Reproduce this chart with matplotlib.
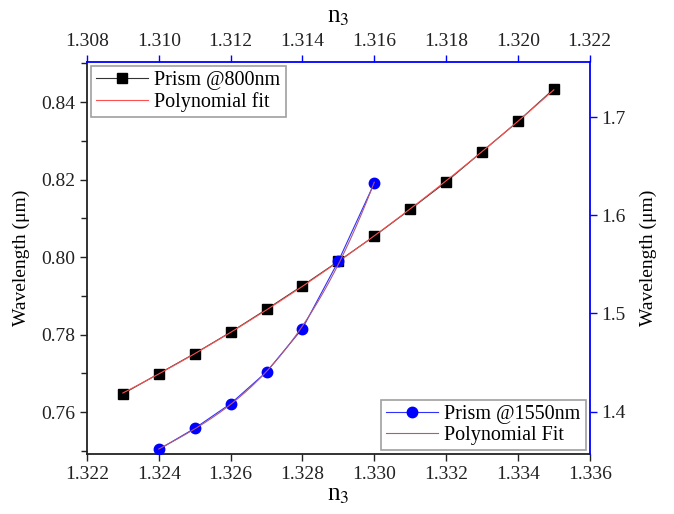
import numpy as np
import matplotlib.pyplot as plt

# data
n3_800 = [1.323, 1.324, 1.325, 1.326, 1.327, 1.328, 1.329,
          1.330, 1.331, 1.332, 1.333, 1.334, 1.335]
wl_800 = [0.7647, 0.7699, 0.7751, 0.7806, 0.7865, 0.7926, 0.7989,
          0.8054, 0.8123, 0.8194, 0.8272, 0.8350, 0.8434]

n3_1550 = [1.310, 1.311, 1.312, 1.313, 1.314, 1.315, 1.316]
wl_1550 = [1.3615, 1.3830, 1.4081, 1.4405, 1.4847, 1.5533, 1.6327]

bottom_ticks = [1.322, 1.324, 1.326, 1.328, 1.330, 1.332, 1.334, 1.336]
top_ticks = [1.308, 1.310, 1.312, 1.314, 1.316, 1.318, 1.320, 1.322]
left_ticks = [0.76, 0.78, 0.80, 0.82, 0.84]
right_ticks = [1.4, 1.5, 1.6, 1.7]

plt.rcParams['font.family'] = ['Liberation Serif', 'DejaVu Serif']
plt.rcParams['mathtext.fontset'] = 'stix'

fig = plt.figure(figsize=(6.74, 5.14), dpi=100)
pos = [0.129, 0.117, 0.746, 0.762]
ax = fig.add_axes(pos)
ax2 = fig.add_axes(pos)
ax2.patch.set_visible(False)

# ---- 800 nm on bottom/left ----
p800 = np.polyfit(n3_800, wl_800, 2)
xf = np.linspace(n3_800[0], n3_800[-1], 200)
ax.plot(n3_800, wl_800, color='#333333', lw=0.8, marker='s', ms=6.5,
        mfc='black', mec='black', label='Prism @800nm', zorder=3)
ax.plot(xf, np.polyval(p800, xf), color='#ff5050', lw=0.8,
        label='Polynomial fit', zorder=4)

# ---- 1550 nm on top/right ----
p1550 = np.polyfit(n3_1550, wl_1550, 3)
xf2 = np.linspace(n3_1550[0], n3_1550[-1], 200)
ax2.plot(n3_1550, wl_1550, color='#3030ff', lw=0.8, marker='o', ms=7.5,
         mfc='blue', mec='blue', label='Prism @1550nm', zorder=3)
ax2.plot(xf2, np.polyval(p1550, xf2), color='#b05a78', lw=0.8,
         label='Polynomial Fit', zorder=4)

ax.set_xlim(1.322, 1.336)
ax.set_ylim(0.7492, 0.8503)
ax2.set_xlim(1.308, 1.322)
ax2.set_ylim(1.357, 1.756)

ax.set_xticks(bottom_ticks)
ax.set_xticklabels([f'{t:.3f}' for t in bottom_ticks])
ax.set_yticks(left_ticks)
ax.set_yticklabels([f'{t:.2f}' for t in left_ticks])
ax.set_yticks(np.arange(0.75, 0.851, 0.01), minor=True)
ax2.set_xticks(top_ticks)
ax2.set_xticklabels([f'{t:.3f}' for t in top_ticks])
ax2.set_yticks(right_ticks)
ax2.set_yticklabels([f'{t:.1f}' for t in right_ticks])

ax2.xaxis.tick_top()
ax2.xaxis.set_label_position('top')
ax2.yaxis.tick_right()
ax2.yaxis.set_label_position('right')

for s in ['top', 'right']:
    ax.spines[s].set_visible(False)
for s in ['bottom', 'left']:
    ax2.spines[s].set_visible(False)
for s in ['top', 'right']:
    ax2.spines[s].set_color('blue')
    ax2.spines[s].set_linewidth(1.3)
for s in ['bottom', 'left']:
    ax.spines[s].set_color('#222222')
    ax.spines[s].set_linewidth(1.3)

ax.tick_params(which='major', direction='out', length=5, width=1,
               labelsize=14, colors='#222222')
ax.tick_params(which='minor', direction='out', length=4, width=1, colors='#222222')
ax2.tick_params(which='major', direction='out', length=5, width=1,
                labelsize=14, color='blue', labelcolor='#222222')

ax.set_xlabel('n$_3$', fontsize=18, labelpad=1)
ax2.set_xlabel('n$_3$', fontsize=18, labelpad=8)
ax.set_ylabel('Wavelength (μm)', fontsize=14, labelpad=8)
ax2.set_ylabel('Wavelength (μm)', fontsize=14, labelpad=10)

leg1 = ax.legend(loc='upper left', fontsize=14.5, frameon=True, fancybox=False,
                 edgecolor='#888888', handlelength=2.6, borderpad=0.25,
                 labelspacing=0.1, handletextpad=0.3, borderaxespad=0.2)
leg1.get_frame().set_linewidth(1.2)
leg2 = ax2.legend(loc='lower right', fontsize=14.5, frameon=True, fancybox=False,
                  edgecolor='#888888', handlelength=2.6, borderpad=0.25,
                  labelspacing=0.1, handletextpad=0.3, borderaxespad=0.2)
leg2.get_frame().set_linewidth(1.2)

fig.savefig('out.png', dpi=100)
plt.close(fig)
